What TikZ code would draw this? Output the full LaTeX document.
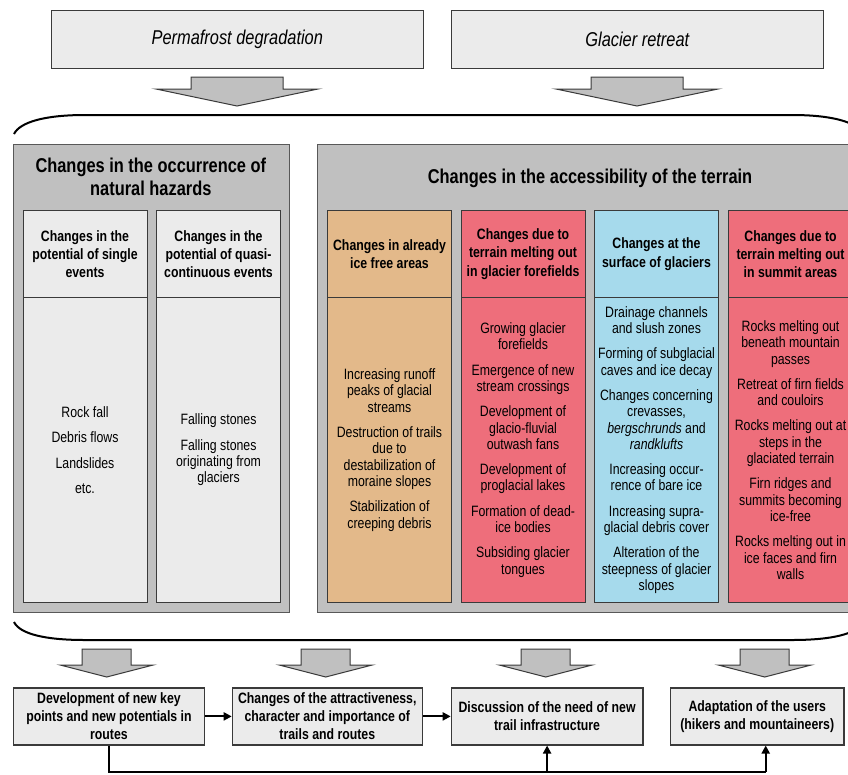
\documentclass[tikz,border=0pt]{standalone}
\usepackage{fontspec}
\setmainfont{Liberation Sans}[FakeStretch=0.82]
\usetikzlibrary{arrows.meta}
\definecolor{panelgray}{HTML}{C0C0C0}
\definecolor{lightbox}{HTML}{EBEBEB}
\definecolor{colTan}{HTML}{E3B98A}
\definecolor{colRose}{HTML}{EE6E7B}
\definecolor{colIce}{HTML}{A6DAEC}
\definecolor{edgecol}{HTML}{3A3A3A}
\newcommand\myblockarrow[7]{% name, x, top, shoulder, tip, shaft half, head half
  \path[blockarrow] (#2-#6,#3) -- (#2+#6,#3) -- (#2+#6,#4) -- (#2+#7,#4) -- (#2,#5) -- (#2-#7,#4) -- (#2-#6,#4) -- cycle;
  \coordinate (#1) at (#2,#5);}
\begin{document}
\begin{tikzpicture}[x=1pt,y=-1pt,
  bodyfont/.style={font=\fontsize{15}{16.3}\selectfont},
  headfont/.style={font=\bfseries\fontsize{15}{18.3}\selectfont},
  cell/.style={draw=edgecol, line width=1pt, anchor=north west, minimum width=124pt, align=center, inner sep=0pt},
  headcell/.style={cell, minimum height=87pt, headfont},
  bodycell/.style={cell, minimum height=305pt, bodyfont},
  panel/.style={draw=edgecol!85, line width=1.3pt, fill=panelgray, anchor=north west, inner sep=0pt},
  titlefont/.style={font=\bfseries\fontsize{20}{23}\selectfont, align=center},
  topbox/.style={draw=edgecol, line width=1.2pt, fill=lightbox, anchor=north west, inner sep=0pt, minimum height=58pt, font=\itshape\fontsize{20}{24}\selectfont},
  botbox/.style={draw=edgecol, line width=1.2pt, fill=lightbox, anchor=north west, inner sep=0pt, align=center, minimum height=57pt, font=\bfseries\fontsize{15}{18}\selectfont},
  blockarrow/.style={draw=edgecol, line width=1pt, fill=panelgray},
  conn/.style={line width=2pt, -{Triangle[length=8pt,width=8pt]}},
  plainline/.style={line width=2pt},
  brace/.style={line width=2pt, black}
]
\useasboundingbox (0,0) rectangle (848,774);
\clip (0,0) rectangle (848,774);
\fill[white] (0,0) rectangle (848,774);

% top boxes
\node[topbox, minimum width=372pt] (perma) at (50.7,10) {Permafrost degradation};
\node[topbox, minimum width=372pt] (glac) at (450.7,10) {Glacier retreat};

% top block arrows
\myblockarrow{ta1}{237}{77}{89}{106}{46}{81}
\myblockarrow{ta2}{637}{77}{89}{106}{46}{81}

% braces
\draw[brace] (14,134) .. controls (20,122) and (45,115) .. (85,115) -- (792,115) .. controls (832,115) and (857,122) .. (863,134);
\draw[brace] (14,622) .. controls (20,634) and (45,640) .. (85,640) -- (792,640) .. controls (832,640) and (857,634) .. (863,622);

% panels
\node[panel, minimum width=276.3pt, minimum height=467.7pt] (lpanel) at (12.7,144) {};
\node[panel, minimum width=545pt, minimum height=467.7pt] (rpanel) at (317,144) {};
\node[titlefont] (ltitle) at (150.8,177) {Changes in the occurrence of\\natural hazards};
\node[titlefont] (rtitle) at (590,178) {Changes in the accessibility of the terrain};

% left columns
\node[headcell, fill=lightbox] (h1) at (22.5,210) {Changes in the\\potential of single\\events};
\node[bodycell, fill=lightbox] (c1) at (22.5,297) {Rock fall\\[9pt]Debris flows\\[9pt]Landslides\\[9pt]etc.};
\node[headcell, fill=lightbox] (h2) at (156,210) {Changes in the\\potential of quasi-\\continuous events};
\node[bodycell, fill=lightbox] (c2) at (156,297) {Falling stones\\[9pt]Falling stones\\originating from\\glaciers};

% right columns
\node[headcell, fill=colTan] (h3) at (327,210) {Changes in already\\ice free areas};
\node[bodycell, fill=colTan] (c3) at (327,297) {Increasing runoff\\peaks of glacial\\streams\\[9pt]Destruction of trails\\due to\\destabilization of\\moraine slopes\\[9pt]Stabilization of\\creeping debris};
\node[headcell, fill=colRose] (h4) at (460.5,210) {Changes due to\\terrain melting out\\in glacier forefields};
\node[bodycell, fill=colRose] (c4) at (460.5,297) {Growing glacier\\forefields\\[9pt]Emergence of new\\stream crossings\\[9pt]Development of\\glacio-fluvial\\outwash fans\\[9pt]Development of\\proglacial lakes\\[9pt]Formation of dead-\\ice bodies\\[9pt]Subsiding glacier\\tongues};
\node[headcell, fill=colIce] (h5) at (594,210) {Changes at the\\surface of glaciers};
\node[bodycell, fill=colIce] (c5) at (594,297) {Drainage channels\\and slush zones\\[9pt]Forming of subglacial\\caves and ice decay\\[9pt]Changes concerning\\crevasses,\\\textit{bergschrunds} and\\\textit{randklufts}\\[9pt]Increasing occur-\\rence of bare ice\\[9pt]Increasing supra-\\glacial debris cover\\[9pt]Alteration of the\\steepness of glacier\\slopes};
\node[headcell, fill=colRose] (h6) at (728,210) {Changes due to\\terrain melting out\\in summit areas};
\node[bodycell, fill=colRose] (c6) at (728,297) {Rocks melting out\\beneath mountain\\passes\\[9pt]Retreat of firn fields\\and couloirs\\[9pt]Rocks melting out at\\steps in the\\glaciated terrain\\[9pt]Firn ridges and\\summits becoming\\ice-free\\[9pt]Rocks melting out in\\ice faces and firn\\walls};

% bottom block arrows
\myblockarrow{ba1}{106.7}{649}{665}{677}{24.5}{46.5}
\myblockarrow{ba2}{325.7}{649}{665}{677}{24.5}{46.5}
\myblockarrow{ba3}{545.7}{649}{665}{677}{24.5}{46.5}
\myblockarrow{ba4}{764.7}{649}{665}{677}{24.5}{46.5}

% bottom boxes
\node[botbox, minimum width=191.3pt] (b1) at (12.7,687.3) {Development of new key\\points and new potentials in\\routes};
\node[botbox, minimum width=190pt] (b2) at (231.7,687.3) {Changes of the attractiveness,\\character and importance of\\trails and routes};
\node[botbox, minimum width=191.6pt] (b3) at (450.7,687.3) {Discussion of the need of new\\trail infrastructure};
\node[botbox, minimum width=173.3pt] (b4) at (670,687.3) {Adaptation of the users\\(hikers and mountaineers)};

% connectors
\draw[conn] (b1.east) -- (b2.west);
\draw[conn] (b2.east) -- (b3.west);
\coordinate (cc4) at (765.7,772);
\coordinate (cc3) at (b3.south |- cc4);
\draw[plainline] (b1.south) |- (cc4);
\draw[conn] (cc4) -- (cc4 |- b4.south);
\draw[conn] (cc3) -- (b3.south);
\end{tikzpicture}
\end{document}
